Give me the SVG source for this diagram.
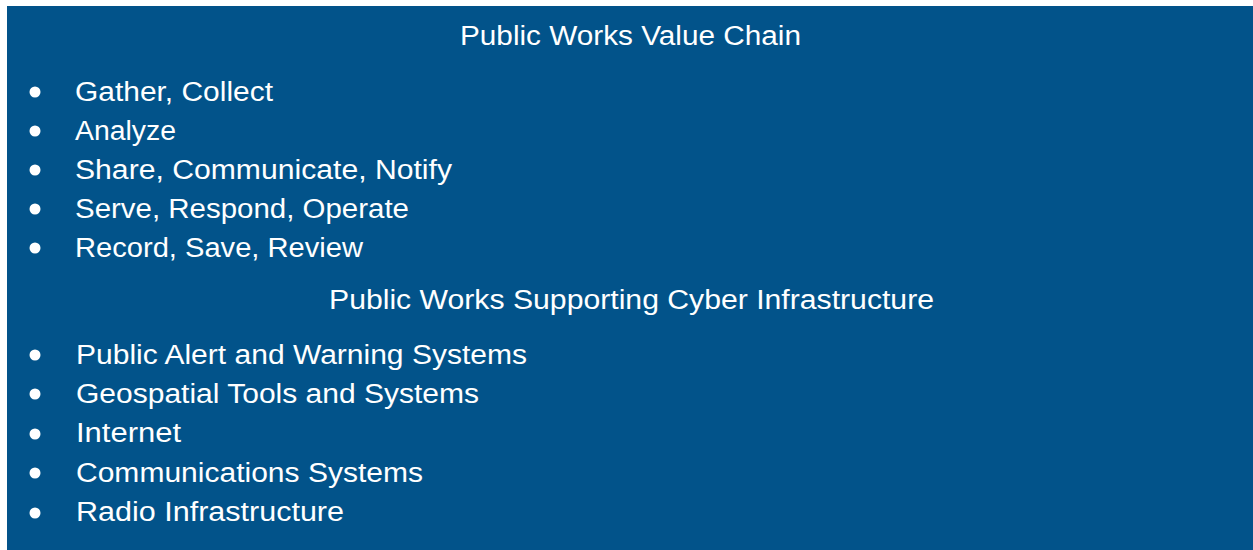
<svg xmlns="http://www.w3.org/2000/svg" width="1253" height="550" viewBox="0 0 1253 550">
<style>
.t{font-family:"Liberation Sans",Arial,sans-serif;font-size:27px;fill:#ffffff}
.b{fill:#ffffff}
</style>
<rect x="0" y="0" width="1253" height="550" fill="#ffffff"/>
<rect x="7" y="6" width="1246" height="544" fill="#02538a"/>
<g id="value-chain">
<text class="t" x="460" y="45" textLength="341" lengthAdjust="spacingAndGlyphs">Public Works Value Chain</text>
<circle class="b" cx="35" cy="92" r="5.5"/><text class="t" x="75" y="101" textLength="198" lengthAdjust="spacingAndGlyphs">Gather, Collect</text>
<circle class="b" cx="35" cy="131" r="5.5"/><text class="t" x="75" y="140" textLength="101" lengthAdjust="spacingAndGlyphs">Analyze</text>
<circle class="b" cx="35" cy="170" r="5.5"/><text class="t" x="75" y="179" textLength="377" lengthAdjust="spacingAndGlyphs">Share, Communicate, Notify</text>
<circle class="b" cx="35" cy="209" r="5.5"/><text class="t" x="75" y="218" textLength="334" lengthAdjust="spacingAndGlyphs">Serve, Respond, Operate</text>
<circle class="b" cx="35" cy="248" r="5.5"/><text class="t" x="75" y="257" textLength="288" lengthAdjust="spacingAndGlyphs">Record, Save, Review</text>
</g>
<g id="cyber-infrastructure">
<text class="t" x="329" y="309" textLength="605" lengthAdjust="spacingAndGlyphs">Public Works Supporting Cyber Infrastructure</text>
<circle class="b" cx="35" cy="355" r="5.5"/><text class="t" x="76" y="364" textLength="451" lengthAdjust="spacingAndGlyphs">Public Alert and Warning Systems</text>
<circle class="b" cx="35" cy="394" r="5.5"/><text class="t" x="76" y="403" textLength="403" lengthAdjust="spacingAndGlyphs">Geospatial Tools and Systems</text>
<circle class="b" cx="35" cy="434" r="5.5"/><text class="t" x="76" y="442" textLength="105" lengthAdjust="spacingAndGlyphs">Internet</text>
<circle class="b" cx="35" cy="473" r="5.5"/><text class="t" x="76" y="482" textLength="347" lengthAdjust="spacingAndGlyphs">Communications Systems</text>
<circle class="b" cx="35" cy="513" r="5.5"/><text class="t" x="76" y="521" textLength="268" lengthAdjust="spacingAndGlyphs">Radio Infrastructure</text>
</g>
</svg>
